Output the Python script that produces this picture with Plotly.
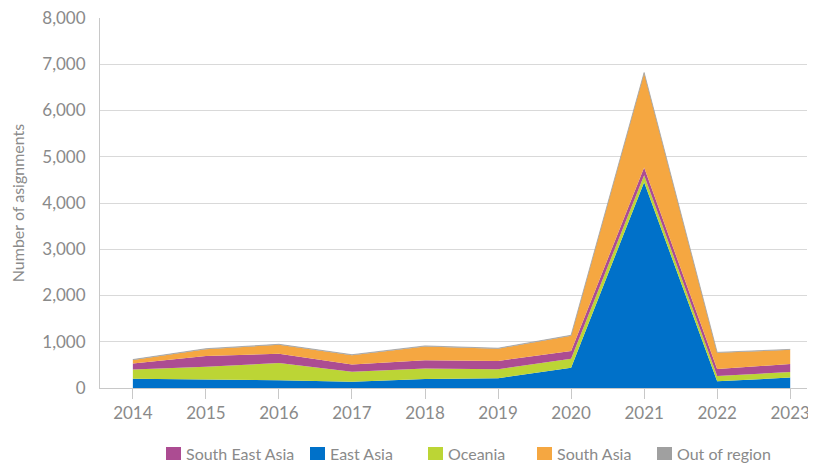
import plotly.graph_objects as go

years = [2014, 2015, 2016, 2017, 2018, 2019, 2020, 2021, 2022, 2023]
east_asia = [200, 190, 165, 135, 195, 210, 440, 4450, 145, 225]
oceania = [200, 270, 375, 215, 225, 195, 195, 150, 115, 120]
south_east_asia = [130, 230, 200, 160, 180, 180, 165, 170, 150, 175]
south_asia = [75, 150, 195, 200, 300, 265, 330, 2040, 350, 305]
out_of_region = [10, 10, 10, 10, 10, 10, 10, 10, 10, 10]

legend_names = ["South East Asia", "East Asia", "Oceania", "South Asia", "Out of region"]

colors = {
    "East Asia": "#0071C9",
    "Oceania": "#BCD535",
    "South East Asia": "#AC4C92",
    "South Asia": "#F5A741",
    "Out of region": "#A0A0A0",
}

series = [
    ("East Asia", east_asia),
    ("Oceania", oceania),
    ("South East Asia", south_east_asia),
    ("South Asia", south_asia),
    ("Out of region", out_of_region),
]

fig = go.Figure()
for name, vals in series:
    fig.add_trace(go.Scatter(
        x=years, y=vals, name=name, stackgroup="one", mode="lines",
        line=dict(width=0.8 if name == "Out of region" else 0, color=colors[name]),
        fillcolor=colors[name], showlegend=False, hoverinfo="skip",
    ))

# figure geometry (px)
W, H = 808, 456
ML, MR, MT, MB = 92, 9, 10, 76
PW, PH = W - ML - MR, H - MT - MB

def px_x(x):
    return (x - ML) / PW

def px_y(y):
    return (H - MB - y) / PH

# manual legend: swatch left edges (px) and swatch size
swatch_left = [158, 302, 420, 529, 649]
sw_w, sw_h = 15, 13
sw_top = 439
grey = "#8a8a8a"
shapes = []
annotations = []
for name, x0 in zip(legend_names, swatch_left):
    shapes.append(dict(type="rect", xref="paper", yref="paper",
                       x0=px_x(x0), x1=px_x(x0 + sw_w),
                       y0=px_y(sw_top + sw_h), y1=px_y(sw_top),
                       fillcolor=colors[name], line=dict(width=0), layer="above"))
    annotations.append(dict(text=name, xref="paper", yref="paper",
                            x=px_x(x0 + sw_w + 3), y=px_y(sw_top + sw_h / 2),
                            xanchor="left", yanchor="middle", showarrow=False,
                            font=dict(size=16, color=grey)))

fig.update_layout(
    width=W, height=H,
    margin=dict(l=ML, r=MR, t=MT, b=MB, autoexpand=False),
    paper_bgcolor="white", plot_bgcolor="white",
    font=dict(family="Lato", color=grey, size=17),
    showlegend=False,
    shapes=shapes,
    annotations=annotations,
    xaxis=dict(range=[2013.55, 2023.23], tickmode="array", tickvals=years,
               ticktext=[str(y) for y in years], showgrid=False,
               showline=True, linecolor="#c8c8c8", linewidth=1,
               ticks="outside", ticklen=10, tickcolor="#c8c8c8",
               tickfont=dict(size=17, color=grey), zeroline=False,
               automargin=False, ticklabeloverflow="allow"),
    yaxis=dict(range=[0, 8000], tickmode="array",
               tickvals=[0, 1000, 2000, 3000, 4000, 5000, 6000, 7000, 8000],
               ticktext=["0", "1,000", "2,000", "3,000", "4,000", "5,000", "6,000", "7,000", "8,000"],
               showgrid=True, gridcolor="#d9d9d9", gridwidth=1,
               showline=True, linecolor="#c8c8c8", linewidth=1,
               zeroline=False, ticks="", ticklabelstandoff=10,
               tickfont=dict(size=17, color=grey), automargin=False,
               ticklabeloverflow="allow",
               title=dict(text="Number of asignments", font=dict(size=16, color=grey), standoff=16)),
)

fig.write_html("out.html")
